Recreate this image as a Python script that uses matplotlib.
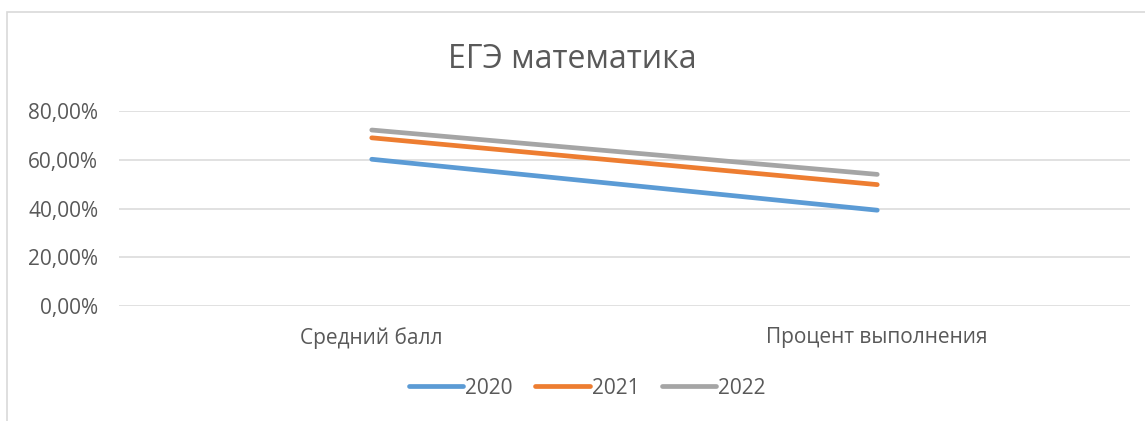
import matplotlib.pyplot as plt
from matplotlib.patches import Rectangle
from matplotlib.ticker import FuncFormatter

plt.rcParams['font.family'] = ['Open Sans', 'DejaVu Sans']

categories = ['Средний балл', 'Процент выполнения']
years = ['2020', '2021', '2022']
values = {
    '2020': [0.602, 0.393],
    '2021': [0.690, 0.498],
    '2022': [0.722, 0.540],
}
colors = ['#5B9BD5', '#ED7D31', '#A5A5A5']
text_color = '#595959'
grid_color = '#D9D9D9'

fig = plt.figure(figsize=(11.45, 4.21), dpi=100)
ax = fig.add_axes([119 / 1145, 1 - 306 / 421, (1130 - 119) / 1145, (306 - 111) / 421])

x = list(range(len(categories)))
for year, color in zip(years, colors):
    ax.plot(x, values[year], color=color, lw=3.4, solid_capstyle='round', label=year)

ax.set_xlim(-0.5, len(categories) - 0.5)
ax.set_ylim(0, 0.8)
ax.set_yticks([0, 0.2, 0.4, 0.6, 0.8])
ax.yaxis.set_major_formatter(FuncFormatter(lambda v, _: f'{v * 100:.2f}%'.replace('.', ',')))
ax.set_xticks(x)
ax.set_xticklabels(categories)
ax.tick_params(axis='both', length=0, labelsize=15, colors=text_color)
ax.tick_params(axis='y', pad=15)
ax.tick_params(axis='x', pad=15)

ax.grid(axis='y', color=grid_color, lw=1.1)
ax.set_axisbelow(True)
for s in ax.spines.values():
    s.set_visible(False)

fig.text(0.5, 1 - 60 / 421, 'ЕГЭ математика', ha='center', va='center',
         fontsize=23, color=text_color)

fig.legend(loc='center', bbox_to_anchor=(0.513, 1 - 388 / 421), ncol=3, frameon=False,
           fontsize=15, labelcolor=text_color, handlelength=2.6, handletextpad=0.1,
           columnspacing=1.1)

# chart border (light gray frame, partly cut off)
fig.patches.append(Rectangle((7 / 1145, -0.1), 1.2, 1.1 - 12 / 421, transform=fig.transFigure,
                             fill=False, edgecolor=grid_color, lw=1.2))

fig.savefig('out.png', dpi=100)
